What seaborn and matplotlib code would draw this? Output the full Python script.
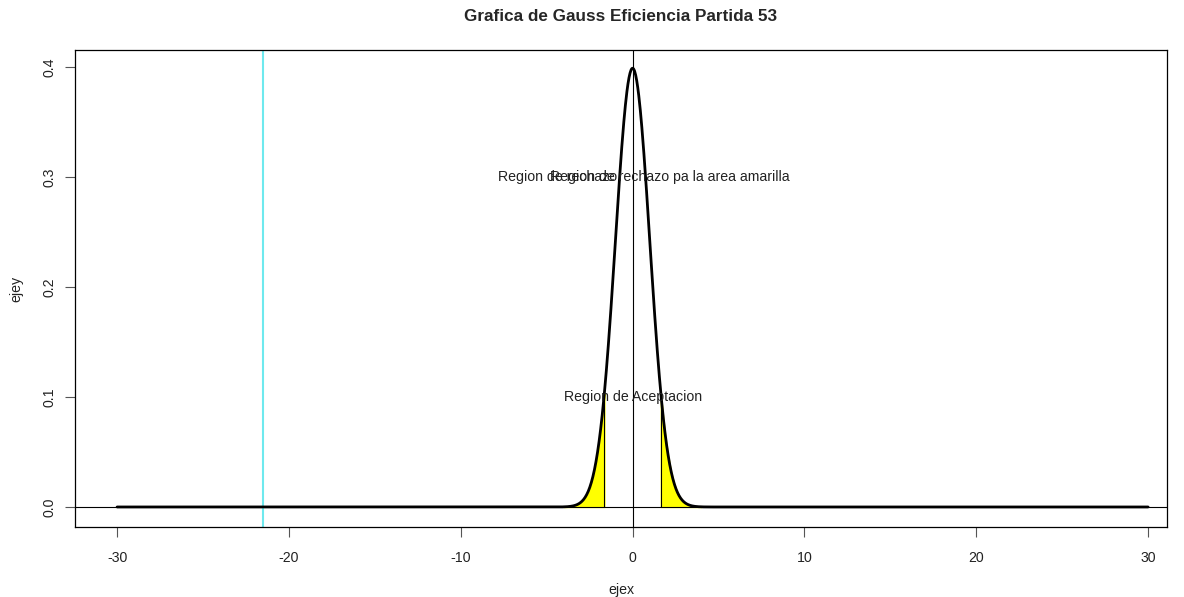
import numpy as np
import pandas as pd
import matplotlib
matplotlib.use("Agg")
import matplotlib.pyplot as plt
import seaborn as sns

# ---- data ----
x_min, x_max = -30, 30
mu, sigma = 0.0, 1.0
critical = 1.645
tail_limit = 4.0
observed = -21.5
x_ticks = [-30, -20, -10, 0, 10, 20, 30]
y_ticks = [0.0, 0.1, 0.2, 0.3, 0.4]
y_tick_labels = ["0.0", "0.1", "0.2", "0.3", "0.4"]
title = "Grafica de Gauss Eficiencia Partida 53"
label_rechazo_1 = "Region de rechazo"
label_rechazo_2 = "Region de rechazo pa la area amarilla"
label_acept = "Region de Aceptacion"

def dnorm(v):
    return np.exp(-0.5 * ((v - mu) / sigma) ** 2) / (sigma * np.sqrt(2 * np.pi))

xs = np.linspace(x_min, x_max, 2001)
df = pd.DataFrame({"ejex": xs, "ejey": dnorm(xs)})

sns.set_theme(style="white")
plt.rcParams["font.family"] = ["Liberation Sans", "DejaVu Sans"]

fs = 10.2
fig = plt.figure(figsize=(11.84, 5.97), dpi=100)
ax = fig.add_axes([75 / 1184, 1 - 527 / 597, (1167 - 75) / 1184, (527 - 50) / 597])

# tails (yellow)
xl = np.linspace(-tail_limit, -critical, 200)
xr = np.linspace(critical, tail_limit, 200)
ax.fill_between(xl, 0, dnorm(xl), color="yellow", zorder=1)
ax.fill_between(xr, 0, dnorm(xr), color="yellow", zorder=1)
ax.plot([-critical, -critical], [0, dnorm(-critical)], color="black", lw=0.8, zorder=2)
ax.plot([critical, critical], [0, dnorm(critical)], color="black", lw=0.8, zorder=2)

ax.axhline(0, color="black", lw=0.8, zorder=2)
ax.axvline(0, color="black", lw=0.8, zorder=2)
ax.axvline(observed, color="#6ee9ee", lw=1.5, zorder=2)

sns.lineplot(data=df, x="ejex", y="ejey", color="black", linewidth=2.0, ax=ax, zorder=3)

ax.set_xlim(-32.45, 31.1)
ax.set_ylim(-0.0182, 0.4155)
ax.set_xticks(x_ticks)
ax.set_xticklabels([str(t) for t in x_ticks])
ax.set_yticks(y_ticks)
ax.set_yticklabels(y_tick_labels, rotation=90, va="center")
ax.tick_params(axis="both", direction="out", length=7, width=0.8, color="#555555",
               labelsize=fs, labelcolor="#222222", bottom=True, left=True)
ax.tick_params(axis="x", pad=10)
ax.tick_params(axis="y", pad=6)
for s in ax.spines.values():
    s.set_color("black")
    s.set_linewidth(0.9)

ax.set_xlabel("ejex", fontsize=fs, color="#222222", labelpad=13)
ax.set_ylabel("ejey", fontsize=fs, color="#222222", labelpad=14)
ax.set_title(title, fontsize=12.3, fontweight="bold", pad=21)

ax.text(-7.86, 0.3, label_rechazo_1, ha="left", va="center", fontsize=fs, color="#222222", zorder=4)
ax.text(-4.83, 0.3, label_rechazo_2, ha="left", va="center", fontsize=fs, color="#222222", zorder=4)
ax.text(0, 0.1, label_acept, ha="center", va="center", fontsize=fs, color="#222222", zorder=4)

fig.savefig("out.png", dpi=100)
